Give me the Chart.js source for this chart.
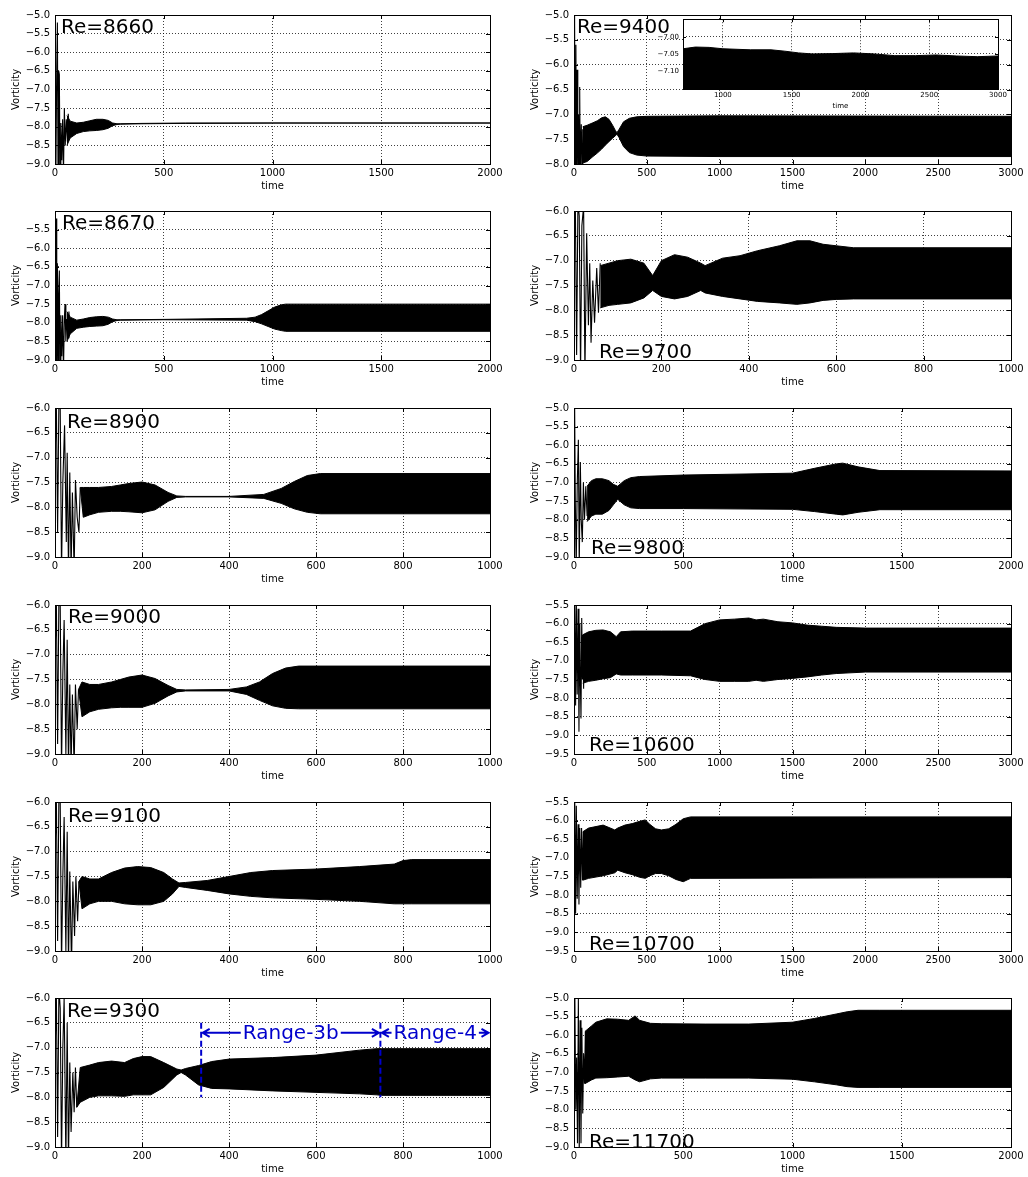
<!DOCTYPE html>
<html>
<head>
<meta charset="utf-8">
<script src="https://cdn.jsdelivr.net/npm/chart.js@4.4.1/dist/chart.umd.min.js"></script>
<style>
  html, body { margin: 0; padding: 0; background: #fff; }
  body { width: 1028px; height: 1177px; position: relative; overflow: hidden; }
  .panel { position: absolute; }
</style>
</head>
<body>
<script>
// ---- data: envelope (hi/lo) of the fast oscillation + start-up transient ----

// Re=8660
const re8660_t  = [55, 70, 100, 130, 160, 190, 220, 245, 265, 285, 300, 400, 600, 1000, 2000];
const re8660_hi = [-7.7, -7.85, -7.9, -7.88, -7.84, -7.8, -7.8, -7.83, -7.9, -7.92, -7.92, -7.91, -7.9, -7.9, -7.9];
const re8660_lo = [-8.5, -8.3, -8.18, -8.13, -8.11, -8.1, -8.08, -8.04, -7.97, -7.94, -7.93, -7.92, -7.91, -7.9, -7.9];
const re8660_tt = [0, 4, 8, 11, 14, 17, 20, 23, 27, 31, 35, 39, 43, 47, 52, 57, 61, 66];
const re8660_tv = [-6.9, -9.3, -6.4, -5.2, -9.3, -6.5, -6.6, -9.3, -7.9, -8.9, -7.8, -9.3, -7.5, -8.5, -7.8, -8.4, -7.65, -8.2];

// Re=8670
const re8670_t  = [55, 70, 100, 130, 160, 190, 220, 245, 265, 285, 300, 500, 880, 920, 950, 980, 1010, 1040, 1060, 2000];
const re8670_hi = [-7.7, -7.85, -7.93, -7.9, -7.86, -7.84, -7.83, -7.85, -7.9, -7.92, -7.92, -7.91, -7.88, -7.85, -7.78, -7.68, -7.58, -7.52, -7.5, -7.5];
const re8670_lo = [-8.5, -8.3, -8.15, -8.12, -8.1, -8.09, -8.08, -8.04, -7.97, -7.94, -7.93, -7.92, -7.93, -7.97, -8.03, -8.1, -8.17, -8.21, -8.23, -8.23];
const re8670_tt = [0, 3, 5, 8, 11, 14, 17, 20, 23, 27, 31, 35, 39, 43, 46, 50, 55, 60, 64, 68];
const re8670_tv = [-6.9, -9.3, -5.2, -9.3, -6.4, -9.3, -7.2, -6.6, -9.3, -7.8, -8.9, -7.8, -9.3, -7.9, -7.5, -8.5, -7.9, -8.4, -7.7, -8.2];

// Re=8900
const re8900_t  = [58, 65, 80, 100, 130, 150, 170, 200, 230, 260, 280, 300, 400, 480, 520, 550, 580, 610, 1000];
const re8900_hi = [-7.6, -7.6, -7.6, -7.6, -7.58, -7.55, -7.52, -7.49, -7.55, -7.7, -7.77, -7.78, -7.78, -7.74, -7.62, -7.48, -7.36, -7.32, -7.32];
const re8900_lo = [-7.6, -8.2, -8.15, -8.1, -8.08, -8.08, -8.09, -8.11, -8.05, -7.88, -7.8, -7.79, -7.79, -7.82, -7.92, -8.03, -8.1, -8.13, -8.13];
const re8900_tt = [0, 3, 6, 9, 12, 15, 18, 22, 26, 28, 31, 34, 37, 40, 44, 47, 51, 55, 58];
const re8900_tv = [-7.2, -5.8, -8.5, -5.8, -6.0, -9.3, -7.5, -6.35, -8.7, -6.9, -9.3, -7.3, -9.3, -7.7, -9.3, -7.45, -8.2, -8.5, -7.6];

// Re=9000
const re9000_t  = [54, 62, 80, 100, 130, 150, 170, 200, 230, 260, 280, 300, 400, 440, 470, 500, 530, 560, 1000];
const re9000_hi = [-7.7, -7.55, -7.6, -7.6, -7.55, -7.5, -7.45, -7.41, -7.48, -7.62, -7.7, -7.71, -7.7, -7.65, -7.55, -7.38, -7.27, -7.23, -7.23];
const re9000_lo = [-7.7, -8.25, -8.15, -8.1, -8.07, -8.06, -8.06, -8.06, -7.98, -7.83, -7.75, -7.73, -7.73, -7.8, -7.92, -8.03, -8.08, -8.09, -8.09];
const re9000_tt = [0, 3, 6, 9, 12, 15, 18, 21, 25, 28, 31, 34, 37, 40, 44, 47, 51, 54];
const re9000_tv = [-7.2, -5.8, -8.8, -5.8, -6.0, -9.3, -7.4, -6.3, -9.0, -6.7, -9.3, -7.6, -9.3, -7.8, -9.3, -7.6, -8.5, -7.7];

// Re=9100
const re9100_t  = [55, 62, 80, 100, 130, 160, 190, 220, 250, 270, 285, 300, 350, 400, 450, 500, 600, 700, 780, 800, 820, 1000];
const re9100_hi = [-7.6, -7.5, -7.55, -7.55, -7.42, -7.33, -7.3, -7.32, -7.42, -7.55, -7.63, -7.62, -7.58, -7.5, -7.42, -7.38, -7.35, -7.3, -7.25, -7.18, -7.16, -7.16];
const re9100_lo = [-7.6, -8.15, -8.05, -8.0, -8.0, -8.05, -8.07, -8.07, -8.0, -7.85, -7.7, -7.72, -7.78, -7.85, -7.9, -7.93, -7.96, -8.0, -8.05, -8.05, -8.05, -8.05];
const re9100_tt = [0, 3, 6, 9, 12, 15, 18, 21, 25, 28, 31, 34, 38, 41, 45, 48, 52, 55];
const re9100_tv = [-7.2, -5.8, -8.8, -5.8, -6.0, -9.3, -7.5, -6.3, -9.0, -6.6, -9.3, -7.4, -9.3, -7.6, -8.7, -7.5, -8.4, -7.6];

// Re=9300
const re9300_t  = [50, 58, 80, 100, 130, 160, 180, 200, 220, 250, 280, 290, 300, 330, 360, 400, 500, 600, 700, 740, 750, 1000];
const re9300_hi = [-8.2, -7.4, -7.35, -7.3, -7.27, -7.3, -7.22, -7.18, -7.18, -7.3, -7.43, -7.45, -7.42, -7.36, -7.28, -7.23, -7.2, -7.15, -7.05, -7.02, -7.02, -7.02];
const re9300_lo = [-8.2, -8.1, -8.0, -7.97, -7.97, -7.98, -7.95, -7.95, -7.95, -7.8, -7.55, -7.5, -7.55, -7.75, -7.82, -7.83, -7.87, -7.9, -7.93, -7.95, -7.96, -7.96];
const re9300_tt = [0, 3, 6, 9, 12, 15, 18, 21, 25, 28, 31, 34, 37, 41, 44, 47, 50];
const re9300_tv = [-7.3, -5.8, -8.8, -5.8, -6.2, -9.3, -7.0, -6.0, -9.3, -6.5, -9.3, -7.3, -8.7, -7.5, -8.3, -7.4, -8.2];
// regime markers on the Re=9300 panel
const rangeBounds = [336, 748, 1000];
const rangeNames  = ['Range-3b', 'Range-4'];
const rangeArrowY = -6.7;
const rangeLineY  = [-6.5, -8.0];

// Re=9400
const re9400_t  = [60, 90, 130, 160, 190, 215, 240, 265, 285, 295, 310, 340, 380, 430, 500, 1000, 3000];
const re9400_hi = [-7.25, -7.22, -7.17, -7.13, -7.07, -7.05, -7.1, -7.22, -7.33, -7.37, -7.3, -7.15, -7.08, -7.05, -7.04, -7.03, -7.04];
const re9400_lo = [-7.98, -7.95, -7.85, -7.78, -7.7, -7.62, -7.55, -7.48, -7.43, -7.4, -7.47, -7.65, -7.77, -7.82, -7.84, -7.85, -7.85];
const re9400_tt = [0, 4, 8, 13, 17, 21, 26, 31, 35, 39, 43, 46, 50, 55, 60];
const re9400_tv = [-7.0, -5.0, -8.2, -5.6, -8.2, -6.1, -8.2, -7.0, -8.2, -6.45, -8.2, -7.6, -7.2, -8.0, -7.3];
// inset: upper edge of the band, zoomed
const inset_t  = [710, 800, 900, 1000, 1200, 1350, 1450, 1550, 1650, 1800, 1950, 2100, 2250, 2400, 2550, 2700, 2850, 3000];
const inset_hi = [-7.035, -7.030, -7.031, -7.035, -7.038, -7.038, -7.042, -7.047, -7.050, -7.049, -7.047, -7.050, -7.055, -7.055, -7.053, -7.056, -7.058, -7.056];
const inset_xticks = [1000, 1500, 2000, 2500, 3000];
const inset_yticks = [-7.10, -7.05, -7.00];

// Re=9700
const re9700_t  = [60, 80, 100, 130, 160, 180, 200, 230, 260, 290, 300, 340, 380, 420, 470, 510, 540, 570, 600, 640, 1000];
const re9700_hi = [-7.1, -7.05, -7.0, -6.97, -7.05, -7.3, -7.0, -6.88, -6.93, -7.05, -7.1, -6.95, -6.9, -6.8, -6.7, -6.6, -6.6, -6.67, -6.7, -6.74, -6.74];
const re9700_lo = [-7.95, -7.9, -7.88, -7.85, -7.75, -7.6, -7.72, -7.77, -7.72, -7.6, -7.65, -7.72, -7.77, -7.82, -7.85, -7.88, -7.85, -7.8, -7.78, -7.77, -7.77];
const re9700_tt = [0, 3, 6, 9, 12, 15, 18, 22, 25, 29, 33, 36, 39, 43, 47, 52, 56, 60];
const re9700_tv = [-7.0, -5.8, -8.9, -5.8, -6.1, -9.3, -6.3, -5.9, -9.3, -6.45, -8.3, -7.05, -8.65, -7.4, -8.25, -7.15, -8.05, -7.05];

// Re=9800
const re9800_t  = [60, 80, 100, 130, 160, 180, 200, 230, 260, 300, 500, 1000, 1100, 1200, 1230, 1300, 1400, 2000];
const re9800_hi = [-7.1, -6.95, -6.9, -6.9, -6.95, -7.05, -7.1, -6.95, -6.87, -6.84, -6.8, -6.75, -6.62, -6.5, -6.48, -6.58, -6.68, -6.69];
const re9800_lo = [-8.05, -7.9, -7.85, -7.85, -7.75, -7.6, -7.45, -7.6, -7.68, -7.7, -7.7, -7.72, -7.78, -7.85, -7.87, -7.8, -7.73, -7.73];
const re9800_tt = [0, 3, 6, 10, 15, 20, 24, 29, 33, 38, 43, 48, 54, 60];
const re9800_tv = [-7.0, -5.0, -7.5, -9.3, -7.0, -5.85, -9.3, -6.45, -8.0, -8.6, -7.0, -8.0, -7.1, -7.9];

// Re=10600
const re10600_t  = [60, 100, 150, 200, 250, 290, 320, 400, 600, 800, 850, 900, 1000, 1100, 1200, 1250, 1300, 1400, 1500, 1600, 1700, 1800, 2000, 3000];
const re10600_hi = [-6.3, -6.22, -6.18, -6.17, -6.22, -6.35, -6.22, -6.2, -6.2, -6.2, -6.1, -6.0, -5.9, -5.88, -5.85, -5.9, -5.88, -5.95, -5.98, -6.04, -6.07, -6.1, -6.12, -6.12];
const re10600_lo = [-7.6, -7.55, -7.52, -7.48, -7.45, -7.35, -7.38, -7.38, -7.38, -7.4, -7.45, -7.5, -7.55, -7.55, -7.55, -7.52, -7.55, -7.5, -7.47, -7.43, -7.38, -7.34, -7.3, -7.3];
const re10600_tt = [0, 5, 11, 16, 22, 28, 34, 40, 44, 48, 53, 58, 62, 66, 70];
const re10600_tv = [-6.5, -5.4, -8.2, -5.4, -7.9, -5.6, -8.9, -6.0, -7.6, -8.55, -5.85, -7.5, -6.3, -7.75, -6.3];

// Re=10700
const re10700_t  = [60, 100, 200, 280, 300, 350, 400, 450, 490, 520, 560, 600, 650, 700, 750, 800, 3000];
const re10700_hi = [-6.3, -6.2, -6.12, -6.25, -6.2, -6.12, -6.08, -6.02, -5.98, -6.1, -6.22, -6.25, -6.22, -6.1, -5.95, -5.9, -5.9];
const re10700_lo = [-7.6, -7.55, -7.48, -7.4, -7.33, -7.4, -7.45, -7.52, -7.55, -7.48, -7.42, -7.42, -7.48, -7.58, -7.64, -7.55, -7.53];
const re10700_tt = [0, 5, 11, 16, 22, 28, 34, 40, 46, 52, 58, 64];
const re10700_tv = [-6.5, -5.4, -8.5, -5.6, -8.1, -6.1, -8.25, -6.2, -7.8, -6.2, -7.6, -6.3];

// Re=11700
const re11700_t  = [50, 80, 100, 150, 200, 250, 280, 300, 350, 400, 600, 800, 1000, 1100, 1200, 1250, 1300, 1400, 2000];
const re11700_hi = [-5.9, -5.75, -5.65, -5.56, -5.57, -5.6, -5.48, -5.6, -5.68, -5.69, -5.7, -5.7, -5.65, -5.55, -5.43, -5.37, -5.33, -5.33, -5.33];
const re11700_lo = [-7.3, -7.2, -7.15, -7.14, -7.12, -7.1, -7.2, -7.25, -7.17, -7.15, -7.15, -7.15, -7.18, -7.25, -7.33, -7.38, -7.4, -7.4, -7.4];
const re11700_tt = [0, 4, 8, 12, 16, 20, 24, 28, 32, 36, 40, 44, 48, 52];
const re11700_tv = [-6.5, -5.0, -8.0, -6.6, -8.9, -5.0, -9.2, -5.6, -8.9, -5.8, -8.1, -6.5, -7.3, -5.9];

// ---- layout ----
const FONT = "'DejaVu Sans', sans-serif";
const LEFT = { x: 55, w: 435 }, RIGHT = { x: 574, w: 437 };
const ROWS = [14, 210, 407, 604, 801, 997];
const PH = 150;

const panels = [
    { name: 'Re=8660',  col: LEFT,  row: 0, xmax: 2000, xstep: 500, ymin: -9,   ymax: -5,   t: re8660_t,  hi: re8660_hi,  lo: re8660_lo,  tt: re8660_tt,  tv: re8660_tv,  lx: 6,  ly: 17.7 },
    { name: 'Re=8670',  col: LEFT,  row: 1, xmax: 2000, xstep: 500, ymin: -9,   ymax: -5,   t: re8670_t,  hi: re8670_hi,  lo: re8670_lo,  tt: re8670_tt,  tv: re8670_tv,  lx: 7,  ly: 17.6, hideTop: true },
    { name: 'Re=8900',  col: LEFT,  row: 2, xmax: 1000, xstep: 200, ymin: -9,   ymax: -6,   t: re8900_t,  hi: re8900_hi,  lo: re8900_lo,  tt: re8900_tt,  tv: re8900_tv,  lx: 12, ly: 20.3 },
    { name: 'Re=9000',  col: LEFT,  row: 3, xmax: 1000, xstep: 200, ymin: -9,   ymax: -6,   t: re9000_t,  hi: re9000_hi,  lo: re9000_lo,  tt: re9000_tt,  tv: re9000_tv,  lx: 13, ly: 18.3 },
    { name: 'Re=9100',  col: LEFT,  row: 4, xmax: 1000, xstep: 200, ymin: -9,   ymax: -6,   t: re9100_t,  hi: re9100_hi,  lo: re9100_lo,  tt: re9100_tt,  tv: re9100_tv,  lx: 13, ly: 20 },
    { name: 'Re=9300',  col: LEFT,  row: 5, xmax: 1000, xstep: 200, ymin: -9,   ymax: -6,   t: re9300_t,  hi: re9300_hi,  lo: re9300_lo,  tt: re9300_tt,  tv: re9300_tv,  lx: 12, ly: 19, ranges: true },
    { name: 'Re=9400',  col: RIGHT, row: 0, xmax: 3000, xstep: 500, ymin: -8,   ymax: -5,   t: re9400_t,  hi: re9400_hi,  lo: re9400_lo,  tt: re9400_tt,  tv: re9400_tv,  lx: 3,  ly: 18.3 },
    { name: 'Re=9700',  col: RIGHT, row: 1, xmax: 1000, xstep: 200, ymin: -9,   ymax: -6,   t: re9700_t,  hi: re9700_hi,  lo: re9700_lo,  tt: re9700_tt,  tv: re9700_tv,  lx: 25, ly: 147 },
    { name: 'Re=9800',  col: RIGHT, row: 2, xmax: 2000, xstep: 500, ymin: -9,   ymax: -5,   t: re9800_t,  hi: re9800_hi,  lo: re9800_lo,  tt: re9800_tt,  tv: re9800_tv,  lx: 17, ly: 146 },
    { name: 'Re=10600', col: RIGHT, row: 3, xmax: 3000, xstep: 500, ymin: -9.5, ymax: -5.5, t: re10600_t, hi: re10600_hi, lo: re10600_lo, tt: re10600_tt, tv: re10600_tv, lx: 15, ly: 146 },
    { name: 'Re=10700', col: RIGHT, row: 4, xmax: 3000, xstep: 500, ymin: -9.5, ymax: -5.5, t: re10700_t, hi: re10700_hi, lo: re10700_lo, tt: re10700_tt, tv: re10700_tv, lx: 15, ly: 148 },
    { name: 'Re=11700', col: RIGHT, row: 5, xmax: 2000, xstep: 500, ymin: -9,   ymax: -5,   t: re11700_t, hi: re11700_hi, lo: re11700_lo, tt: re11700_tt, tv: re11700_tv, lx: 15, ly: 149.5 }
];

const pts = (xs, ys) => xs.map((x, i) => ({ x, y: ys[i] }));
const fmt = d => v => (v < 0 ? '\u2212' : '') + Math.abs(v).toFixed(d);

// white plot background (used by the inset)
const whiteBg = {
    id: 'whiteBg',
    beforeDraw(chart, args, opts) {
        if (!opts.on) return;
        const a = chart.chartArea, ctx = chart.ctx;
        ctx.save();
        ctx.fillStyle = '#fff';
        ctx.fillRect(a.left, a.top, a.right - a.left, a.bottom - a.top);
        ctx.restore();
    }
};

// matplotlib-style box frame with inward ticks, plus the Re label
const frame = {
    id: 'frame',
    afterDatasetsDraw(chart, args, opts) {
        const a = chart.chartArea, ctx = chart.ctx;
        const { x, y } = chart.scales;
        const tl = opts.tick || 4;
        ctx.save();
        ctx.strokeStyle = '#000';
        ctx.lineWidth = 1;
        ctx.beginPath();
        x.ticks.forEach(t => {
            const px = Math.round(x.getPixelForValue(t.value)) + 0.5;
            ctx.moveTo(px, a.bottom); ctx.lineTo(px, a.bottom - tl);
            ctx.moveTo(px, a.top); ctx.lineTo(px, a.top + tl);
        });
        y.ticks.forEach(t => {
            const py = Math.round(y.getPixelForValue(t.value)) + 0.5;
            ctx.moveTo(a.left, py); ctx.lineTo(a.left + tl, py);
            ctx.moveTo(a.right, py); ctx.lineTo(a.right - tl, py);
        });
        ctx.stroke();
        ctx.strokeRect(Math.round(a.left) + 0.5, Math.round(a.top) + 0.5,
            Math.round(a.right - a.left), Math.round(a.bottom - a.top));
        if (opts.label) {
            ctx.fillStyle = '#000';
            ctx.font = '20px ' + FONT;
            ctx.textBaseline = 'alphabetic';
            ctx.textAlign = 'left';
            ctx.fillText(opts.label, a.left + opts.lx, a.top + opts.ly);
        }
        ctx.restore();
    }
};

// Range-3b / Range-4 markers
function arrowHead(ctx, x, y, dir) {
    ctx.moveTo(x + dir * 7, y - 4);
    ctx.lineTo(x, y);
    ctx.lineTo(x + dir * 7, y + 4);
}
const ranges = {
    id: 'ranges',
    afterDatasetsDraw(chart, args, opts) {
        if (!opts.on) return;
        const { x, y } = chart.scales, ctx = chart.ctx;
        const blue = '#0000cc';
        ctx.save();
        ctx.strokeStyle = blue;
        ctx.fillStyle = blue;
        ctx.lineWidth = 2;
        ctx.setLineDash([6, 3]);
        ctx.beginPath();
        rangeBounds.slice(0, 2).forEach(v => {
            const px = x.getPixelForValue(v);
            ctx.moveTo(px, y.getPixelForValue(rangeLineY[0]));
            ctx.lineTo(px, y.getPixelForValue(rangeLineY[1]));
        });
        ctx.stroke();
        ctx.setLineDash([]);
        ctx.font = '20px ' + FONT;
        ctx.textAlign = 'center';
        ctx.textBaseline = 'middle';
        const py = y.getPixelForValue(rangeArrowY);
        rangeNames.forEach((name, i) => {
            const x0 = x.getPixelForValue(rangeBounds[i]) + 1.5;
            const x1 = x.getPixelForValue(rangeBounds[i + 1]) - 1.5;
            const cx = (x0 + x1) / 2;
            const w = ctx.measureText(name).width;
            ctx.fillText(name, cx, py + 1);
            ctx.beginPath();
            ctx.moveTo(x0, py); ctx.lineTo(cx - w / 2 - 2, py);
            ctx.moveTo(cx + w / 2 + 2, py); ctx.lineTo(x1, py);
            arrowHead(ctx, x0, py, 1);
            arrowHead(ctx, x1, py, -1);
            ctx.stroke();
        });
        ctx.restore();
    }
};

Chart.register(whiteBg, frame, ranges);

function makeCanvas(left, top, w, h) {
    const div = document.createElement('div');
    div.className = 'panel';
    div.style.left = left + 'px';
    div.style.top = top + 'px';
    const cv = document.createElement('canvas');
    cv.width = w; cv.height = h;
    cv.style.width = w + 'px'; cv.style.height = h + 'px';
    div.appendChild(cv);
    document.body.appendChild(div);
    return cv;
}

const gridOpts = { color: 'rgba(0,0,0,0.75)', lineWidth: 1, drawTicks: false };
const borderOpts = { display: false, dash: [1, 2] };

function makePanel(p) {
    const padL = 55, padT = 10, padR = 22, padB = 32;
    const px = p.col.x, py = ROWS[p.row], pw = p.col.w;
    const cv = makeCanvas(px - padL, py - padT, padL + pw + padR, padT + PH + padB);
    const yFmt = fmt(1);
    new Chart(cv, {
        type: 'line',
        data: {
            datasets: [
                { data: pts(p.t, p.hi), borderColor: '#000', backgroundColor: '#000', borderWidth: 1, fill: '+1', pointRadius: 0, tension: 0 },
                { data: pts(p.t, p.lo), borderColor: '#000', backgroundColor: '#000', borderWidth: 1, fill: false, pointRadius: 0, tension: 0 },
                { data: pts(p.tt, p.tv), borderColor: '#000', borderWidth: 1.1, fill: false, pointRadius: 0, tension: 0 }
            ]
        },
        options: {
            responsive: false,
            animation: false,
            events: [],
            layout: { padding: { left: 0, top: padT, right: padR, bottom: 0 } },
            plugins: {
                legend: { display: false },
                tooltip: { enabled: false },
                frame: { label: p.name, lx: p.lx, ly: p.ly },
                ranges: { on: !!p.ranges },
                whiteBg: { on: false }
            },
            scales: {
                x: {
                    type: 'linear', min: 0, max: p.xmax,
                    grid: gridOpts, border: borderOpts,
                    ticks: { stepSize: p.xstep, autoSkip: false, maxRotation: 0, padding: 3, color: '#000', font: { family: FONT, size: 10 }, callback: v => String(v) },
                    title: { display: true, text: 'time', color: '#000', font: { family: FONT, size: 10 }, padding: { top: 0, bottom: 4 } },
                    afterFit: s => { s.height = padB; }
                },
                y: {
                    type: 'linear', min: p.ymin, max: p.ymax,
                    grid: gridOpts, border: borderOpts,
                    ticks: { stepSize: 0.5, autoSkip: false, padding: 5, color: '#000', font: { family: FONT, size: 10 },
                             callback: v => (p.hideTop && Math.abs(v - p.ymax) < 1e-6) ? '' : yFmt(v) },
                    title: { display: true, text: 'Vorticity', color: '#000', font: { family: FONT, size: 10 }, padding: { top: 10, bottom: 0 } },
                    afterFit: s => { s.width = padL; }
                }
            }
        }
    });
}

function makeInset() {
    const px = 683, py = 19, pw = 315, ph = 70;
    const padL = 40, padT = 8, padR = 14, padB = 24;
    const cv = makeCanvas(px - padL, py - padT, padL + pw + padR, padT + ph + padB);
    new Chart(cv, {
        type: 'line',
        data: {
            datasets: [
                { data: pts(inset_t, inset_hi), borderColor: '#000', backgroundColor: '#000', borderWidth: 1, fill: 'start', pointRadius: 0, tension: 0 }
            ]
        },
        options: {
            responsive: false,
            animation: false,
            events: [],
            layout: { padding: { left: 0, top: padT, right: padR, bottom: 0 } },
            plugins: {
                legend: { display: false },
                tooltip: { enabled: false },
                frame: { tick: 3 },
                ranges: { on: false },
                whiteBg: { on: true }
            },
            scales: {
                x: {
                    type: 'linear', min: 710, max: 3000,
                    grid: gridOpts, border: borderOpts,
                    afterBuildTicks: s => { s.ticks = inset_xticks.map(v => ({ value: v })); },
                    ticks: { autoSkip: false, maxRotation: 0, padding: 2, color: '#000', font: { family: FONT, size: 7 }, callback: v => String(v) },
                    title: { display: true, text: 'time', color: '#000', font: { family: FONT, size: 7 }, padding: { top: 0, bottom: 2.5 } },
                    afterFit: s => { s.height = padB; }
                },
                y: {
                    type: 'linear', min: -7.152, max: -6.949,
                    grid: gridOpts, border: borderOpts,
                    afterBuildTicks: s => { s.ticks = inset_yticks.map(v => ({ value: v })); },
                    ticks: { autoSkip: false, padding: 4, color: '#000', font: { family: FONT, size: 7 }, callback: fmt(2) },
                    afterFit: s => { s.width = padL; }
                }
            }
        }
    });
}

panels.forEach(makePanel);
makeInset();
</script>
</body>
</html>
